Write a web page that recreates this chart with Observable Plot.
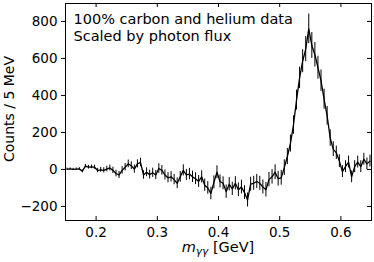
<!DOCTYPE html>
<html>
<head>
<meta charset="utf-8">
<script src="https://cdn.jsdelivr.net/npm/d3@7"></script>
<script src="https://cdn.jsdelivr.net/npm/@observablehq/plot@0.6"></script>
<style>
  html, body { margin: 0; padding: 0; background: white; }
  #chart { width: 374px; height: 262px; }
</style>
</head>
<body>
<div id="chart"></div>
<script>
// Bin centres of m_gg [GeV] (5 MeV bins)
const mass = [
  0.1525, 0.1575, 0.1625, 0.1675, 0.1725, 0.1775, 0.1825, 0.1875, 0.1925, 0.1975,
  0.2025, 0.2075, 0.2125, 0.2175, 0.2225, 0.2275, 0.2325, 0.2375, 0.2425, 0.2475,
  0.2525, 0.2575, 0.2625, 0.2675, 0.2725, 0.2775, 0.2825, 0.2875, 0.2925, 0.2975,
  0.3025, 0.3075, 0.3125, 0.3175, 0.3225, 0.3275, 0.3325, 0.3375, 0.3425, 0.3475,
  0.3525, 0.3575, 0.3625, 0.3675, 0.3725, 0.3775, 0.3825, 0.3875, 0.3925, 0.3975,
  0.4025, 0.4075, 0.4125, 0.4175, 0.4225, 0.4275, 0.4325, 0.4375, 0.4425, 0.4475,
  0.4525, 0.4575, 0.4625, 0.4675, 0.4725, 0.4775, 0.4825, 0.4875, 0.4925, 0.4975,
  0.5025, 0.5075, 0.5125, 0.5175, 0.5225, 0.5275, 0.5325, 0.5375, 0.5425, 0.5475,
  0.5525, 0.5575, 0.5625, 0.5675, 0.5725, 0.5775, 0.5825, 0.5875, 0.5925, 0.5975,
  0.6025, 0.6075, 0.6125, 0.6175, 0.6225, 0.6275, 0.6325, 0.6375, 0.6425, 0.6475
];
// Counts per 5 MeV
const counts = [
  2, 3, 0, 2, 3, -10, 18, 12, 14, 12,
  -6, -2, -5, 2, 8, -5, -22, -30, -5, 12,
  30, 20, 2, 30, 38, -30, -15, -28, -18, -30,
  5, -5, -30, -45, -40, -55, -75, -40, -5, -30,
  -25, -40, -50, -65, -40, -85, -100, -130, -70, -15,
  -65, -75, -120, -80, -105, -75, -110, -95, -125, -165,
  -80, -75, -65, -75, -95, -110, -55, -40, -15, -50,
  -45, 10, 70, 140, 240, 375, 495, 585, 650, 760,
  670, 620, 550, 480, 380, 290, 170, 110, 90, 45,
  -12, 15, 40, -40, 15, 40, 15, 55, 30, 45
];
// Statistical uncertainties (half-length of error bars)
const errors = [
  5, 5, 6, 6, 7, 8, 9, 10, 10, 11,
  12, 13, 14, 15, 16, 17, 18, 19, 20, 20,
  21, 21, 22, 22, 23, 23, 24, 24, 25, 25,
  26, 26, 27, 27, 28, 28, 29, 29, 30, 30,
  31, 31, 32, 32, 33, 33, 34, 34, 35, 35,
  35, 35, 36, 36, 36, 36, 37, 37, 37, 38,
  38, 38, 38, 38, 38, 39, 39, 39, 40, 40,
  40, 42, 44, 46, 50, 54, 58, 62, 68, 80,
  70, 66, 62, 58, 54, 50, 45, 40, 36, 34,
  32, 32, 32, 32, 32, 32, 32, 32, 32, 32
];
const xTicks = [0.2, 0.3, 0.4, 0.5, 0.6];
const yTicks = [-200, 0, 200, 400, 600, 800];
const annotation = ["100% carbon and helium data\nScaled by photon flux"];
const xLabel = {main: "m", sub: "γγ", unit: " [GeV]"};
const yLabel = "Counts / 5 MeV";

const data = mass.map((m, i) => ({m, c: counts[i], e: errors[i]}));

const W = 374, H = 262;
const mL = 65, mR = 3, mT = 3, mB = 42;
const plotW = W - mL - mR, plotH = H - mT - mB;
const tick = 4;

const svg = Plot.plot({
  width: W, height: H,
  marginLeft: mL, marginRight: mR, marginTop: mT, marginBottom: mB,
  style: {fontFamily: "DejaVu Sans", fontSize: "13px", background: "white", color: "black", overflow: "visible"},
  x: {domain: [0.15, 0.65], label: null},
  y: {domain: [-276, 897], label: null},
  marks: [
    Plot.ruleX(data, {x: "m", y1: d => d.c - d.e, y2: d => d.c + d.e, stroke: "black", strokeWidth: 1}),
    Plot.line(data, {x: "m", y: "c", stroke: "black", strokeWidth: 1.3}),
    // inward ticks bottom/top/right
    Plot.ruleX(xTicks, {x: d => d, insetTop: plotH - tick, stroke: "black", strokeWidth: 1}),
    Plot.ruleX(xTicks, {x: d => d, insetBottom: plotH - tick, stroke: "black", strokeWidth: 1}),
    Plot.ruleY(yTicks, {y: d => d, insetLeft: plotW - tick, stroke: "black", strokeWidth: 1}),
    Plot.axisX(xTicks, {tickSize: 0, tickPadding: 7, label: null, fontSize: 13.5, tickFormat: d3.format(".1f")}),
    Plot.axisY(yTicks, {tickSize: tick, tickPadding: 4, label: null, fontSize: 13.5, stroke: "black"}),
    Plot.frame({stroke: "black", strokeWidth: 1}),
    Plot.text(annotation, {text: d => d, frameAnchor: "top-left", dx: 8, dy: 8, fontSize: 14.5, lineHeight: 1.2, textAnchor: "start", fill: "black"})
  ]
});

const s = d3.select(svg);
const xl = s.append("text")
  .attr("x", mL + plotW / 2)
  .attr("y", 252)
  .attr("text-anchor", "middle")
  .attr("font-family", "DejaVu Sans")
  .attr("font-size", 14.5)
  .attr("fill", "black");
xl.append("tspan").attr("font-style", "italic").text(xLabel.main);
xl.append("tspan").attr("font-style", "italic").attr("font-size", 10.5).attr("dy", 3).text(xLabel.sub);
xl.append("tspan").attr("dy", -3).text(xLabel.unit);

s.append("text")
  .attr("transform", `translate(14,109) rotate(-90)`)
  .attr("text-anchor", "middle")
  .attr("font-family", "DejaVu Sans")
  .attr("font-size", 14)
  .attr("fill", "black")
  .text(yLabel);

document.getElementById("chart").appendChild(svg);
</script>
</body>
</html>
